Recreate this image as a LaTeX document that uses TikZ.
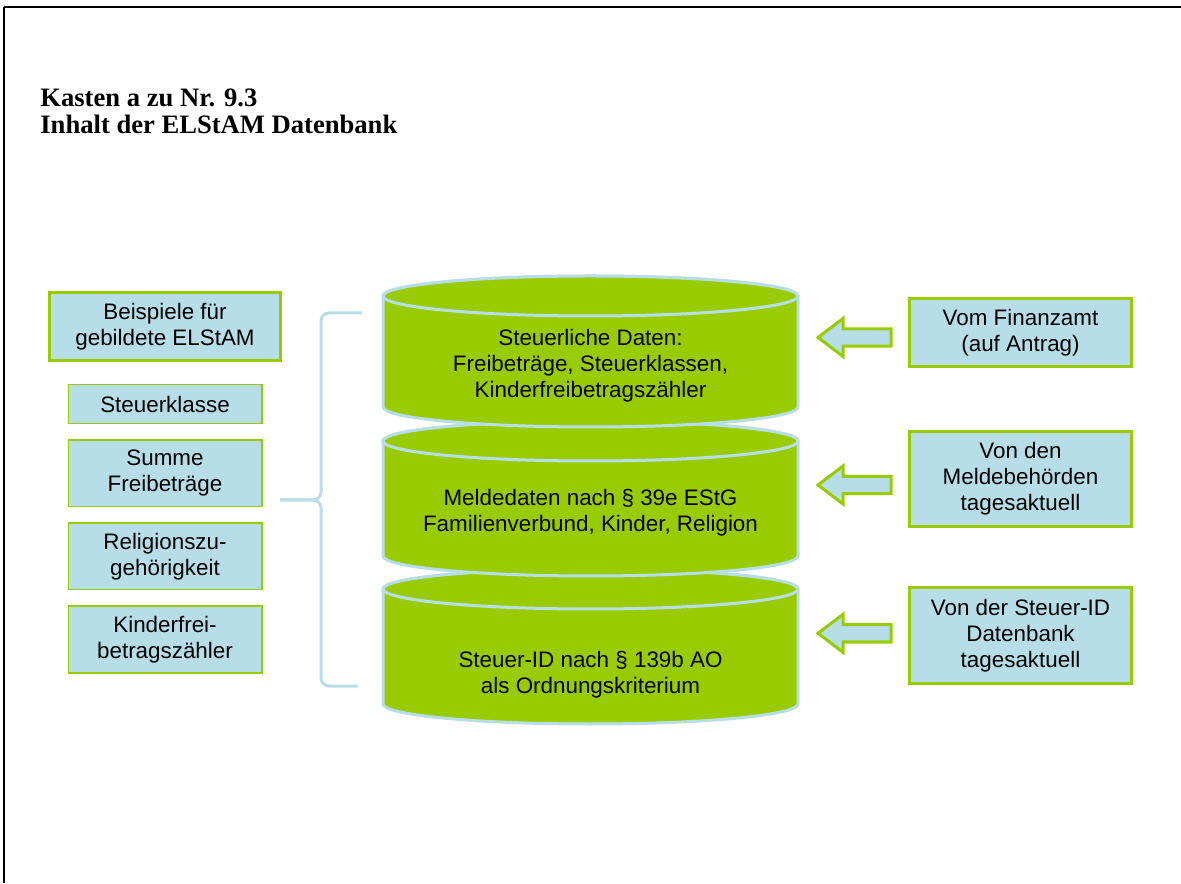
\documentclass[tikz,border=0pt]{standalone}
\usepackage{fontspec}
\setmainfont{Liberation Sans}
\newfontfamily\titlefont{Liberation Serif}
\usetikzlibrary{positioning}
\definecolor{elgreen}{RGB}{153,204,0}
\definecolor{elblue}{RGB}{183,222,232}

\begin{document}
\begin{tikzpicture}[x=0.5pt,y=0.5pt,
  every node/.style={font=\fontsize{11.2}{13}\selectfont,align=center},
  headbox/.style={rectangle,draw=elgreen,line width=1.5pt,fill=elblue,
    minimum width=115.5pt,minimum height=34pt,inner sep=0pt},
  itembox/.style={rectangle,draw=elgreen,line width=0.6pt,fill=elblue,
    minimum width=96.9pt,inner sep=0pt},
  sourcebox/.style={rectangle,draw=elgreen,line width=1.5pt,fill=elblue,
    minimum width=111pt,inner sep=0pt},
  barrel/.style={fill=elgreen,draw=elblue,line width=1.5pt},
  blockarrow/.style={fill=elblue,draw=elgreen,line width=1.5pt},
  bracket/.style={draw=elblue,line width=1.5pt,rounded corners=4pt}]
  \useasboundingbox (0,0) rectangle (1181,883);

  % frame and heading
  \draw[line width=0.7pt] (4,0) -- (4,875.5);
  \draw[line width=1pt] (3.65,875.5) -- (1181,875.5);
  \node[anchor=north west,inner sep=0pt,align=left,
    font=\titlefont\bfseries\fontsize{13.3}{13.5}\selectfont] (title) at (40,794.5)
    {Kasten a zu Nr. 9.3\\Inhalt der ELStAM Datenbank};

  % left column
  \node[headbox] (examples) at (165,556.5) {Beispiele für\\gebildete ELStAM};
  \node[itembox,minimum height=19.65pt,below=11pt of examples] (taxclass) {Steuerklasse};
  \node[itembox,minimum height=33.4pt,below=7.5pt of taxclass] (allowance) {Summe\\Freibeträge};
  \node[itembox,minimum height=33.4pt,below=7.5pt of allowance] (religion) {Religionszu-\\gehörigkeit};
  \node[itembox,minimum height=33.4pt,below=7.5pt of religion] (childcount) {Kinderfrei-\\betragszähler};

  \draw[bracket] (362,570) -- (321,570) -- (321,383) -- (280,383);
  \draw[bracket] (280,383) -- (321,383) -- (321,197) -- (358,197);

  % database layers, bottom first
  \draw[barrel] (383,179) arc (180:360:207.5 and 20) -- (798,294) arc (0:180:207.5 and 20) -- cycle;
  \draw[barrel] (590.5,294) ellipse (207.5 and 20);
  \draw[barrel] (383,327) arc (180:360:207.5 and 20) -- (798,442) arc (0:180:207.5 and 20) -- cycle;
  \draw[barrel] (590.5,442) ellipse (207.5 and 20);
  \draw[barrel] (383,476) arc (180:360:207.5 and 20) -- (798,587) arc (0:180:207.5 and 20) -- cycle;
  \draw[barrel] (590.5,587) ellipse (207.5 and 20);

  \node (taxdata) at (590.5,517) {Steuerliche Daten:\\Freibeträge, Steuerklassen,\\Kinderfreibetragszähler};
  \node (regdata) at (590.5,370) {Meldedaten nach § 39e EStG\\Familienverbund, Kinder, Religion};
  \node (iddata) at (590.5,208.5) {Steuer-ID nach § 139b AO\\als Ordnungskriterium};

  % sources on the right
  \node[sourcebox,minimum height=34.3pt] (taxoffice) at (1020.5,550.5) {Vom Finanzamt\\(auf Antrag)};
  \node[sourcebox,minimum height=47.35pt,below=30.85pt of taxoffice] (registry) {Von den\\Meldebehörden\\tagesaktuell};
  \node[sourcebox,minimum height=48pt,below=29.15pt of registry] (idbase) {Von der Steuer-ID\\Datenbank\\tagesaktuell};

  \draw[blockarrow] (818,545.5) -- ++(25,19) -- ++(0,-10.3) -- ++(48,0) -- ++(0,-17.4) -- ++(-48,0) -- ++(0,-10.3) -- cycle;
  \draw[blockarrow] (818,398) -- ++(25,19) -- ++(0,-10.3) -- ++(48,0) -- ++(0,-17.4) -- ++(-48,0) -- ++(0,-10.3) -- cycle;
  \draw[blockarrow] (818,249.7) -- ++(25,19) -- ++(0,-10.3) -- ++(48,0) -- ++(0,-17.4) -- ++(-48,0) -- ++(0,-10.3) -- cycle;
\end{tikzpicture}
\end{document}
